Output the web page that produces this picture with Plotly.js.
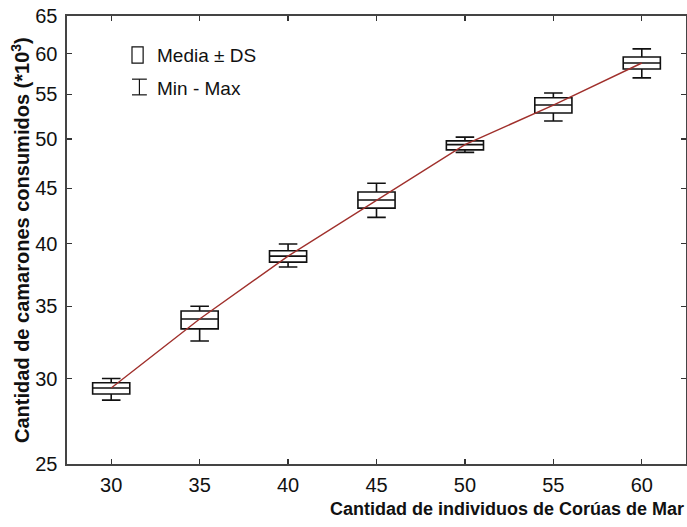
<!DOCTYPE html>
<html>
<head>
<meta charset="utf-8">
<script src="https://cdn.plot.ly/plotly-3.0.1.min.js"></script>
<style>html,body{margin:0;padding:0;background:#fff;}#chart{width:687px;height:527px;}</style>
</head>
<body>
<div id="chart"></div>
<script>
// Data (thousands of shrimp)
var individuos = [30, 35, 40, 45, 50, 55, 60];
var media      = [29.4, 34.06, 38.95, 43.9, 49.4, 53.76, 58.8];
var mediaMenosDS = [29.03, 33.35, 38.45, 43.15, 48.85, 52.85, 58.05];
var mediaMasDS   = [29.73, 34.65, 39.4, 44.65, 49.8, 54.6, 59.55];
var minimo     = [28.65, 32.5, 38.05, 42.3, 48.6, 51.96, 56.96];
var maximo     = [30.0, 35.0, 39.97, 45.5, 50.2, 55.16, 60.6];
var xTicks = [30, 35, 40, 45, 50, 55, 60];
var yTicks = [25, 30, 35, 40, 45, 50, 55, 60, 65];

var fontFam = 'Liberation Sans, Arial, sans-serif';

var boxTrace = {
  type: 'box',
  x: individuos,
  q1: mediaMenosDS,
  median: media,
  q3: mediaMasDS,
  lowerfence: minimo,
  upperfence: maximo,
  width: 2.1,
  whiskerwidth: 0.5,
  boxpoints: false,
  fillcolor: '#ffffff',
  line: {color: '#111111', width: 1.6},
  showlegend: false,
  hoverinfo: 'skip'
};

var lineTrace = {
  type: 'scatter',
  mode: 'lines',
  x: individuos,
  y: media,
  line: {color: '#a0302c', width: 1.4},
  showlegend: false,
  hoverinfo: 'skip'
};

var layout = {
  width: 687,
  height: 527,
  margin: {l: 67, r: 1, t: 16, b: 63},
  paper_bgcolor: '#ffffff',
  plot_bgcolor: '#ffffff',
  showlegend: false,
  font: {family: fontFam, color: '#111111', size: 19},
  xaxis: {
    range: [27.5, 62.5],
    tickvals: xTicks,
    ticktext: xTicks.map(String),
    ticks: 'inside',
    ticklen: 5,
    tickwidth: 1.2,
    tickcolor: '#333333',
    showline: true,
    linecolor: '#444444',
    linewidth: 1.6,
    mirror: 'ticks',
    showgrid: false,
    zeroline: false,
    ticklabelstandoff: 2,
    tickfont: {size: 20, family: fontFam, color: '#111111'}
  },
  yaxis: {
    type: 'log',
    range: [Math.log10(25), Math.log10(65)],
    tickvals: yTicks,
    ticktext: yTicks.map(String),
    ticks: 'inside',
    ticklen: 5,
    tickwidth: 1.2,
    tickcolor: '#333333',
    showline: true,
    linecolor: '#444444',
    linewidth: 1.6,
    mirror: 'ticks',
    showgrid: false,
    zeroline: false,
    ticklabelstandoff: 4,
    tickfont: {size: 20, family: fontFam, color: '#111111'}
  },
  annotations: [
    {
      xref: 'paper', yref: 'paper', x: 1.0, y: -0.073,
      xanchor: 'right', yanchor: 'top', showarrow: false,
      text: '<b>Cantidad de individuos de Corúas de Mar</b>',
      font: {size: 18, family: fontFam, color: '#111111'}
    },
    {
      xref: 'paper', yref: 'paper', x: -0.076, y: 0.50,
      xanchor: 'center', yanchor: 'middle', showarrow: false, textangle: -90,
      text: '<b>Cantidad de camarones consumidos (*10<sup>3</sup>)</b>',
      font: {size: 20, family: fontFam, color: '#111111'}
    },
    {
      xref: 'paper', yref: 'paper', x: 0.142, y: 0.911,
      xanchor: 'left', yanchor: 'middle', showarrow: false,
      text: 'Media ± DS',
      font: {size: 19, family: fontFam, color: '#111111'}
    },
    {
      xref: 'paper', yref: 'paper', x: 0.142, y: 0.839,
      xanchor: 'left', yanchor: 'middle', showarrow: false,
      text: 'Min - Max',
      font: {size: 19, family: fontFam, color: '#111111'}
    }
  ],
  shapes: [
    {type: 'rect', xref: 'paper', yref: 'paper', x0: 0.105, x1: 0.123, y0: 0.895, y1: 0.931,
     line: {color: '#111111', width: 1.2}, fillcolor: 'rgba(0,0,0,0)'},
    {type: 'line', xref: 'paper', yref: 'paper', x0: 0.117, x1: 0.117, y0: 0.824, y1: 0.859,
     line: {color: '#111111', width: 1.2}},
    {type: 'line', xref: 'paper', yref: 'paper', x0: 0.105, x1: 0.129, y0: 0.859, y1: 0.859,
     line: {color: '#111111', width: 1.2}},
    {type: 'line', xref: 'paper', yref: 'paper', x0: 0.105, x1: 0.129, y0: 0.824, y1: 0.824,
     line: {color: '#111111', width: 1.2}}
  ]
};

Plotly.newPlot('chart', [boxTrace, lineTrace], layout, {displayModeBar: false, staticPlot: true});
</script>
</body>
</html>
